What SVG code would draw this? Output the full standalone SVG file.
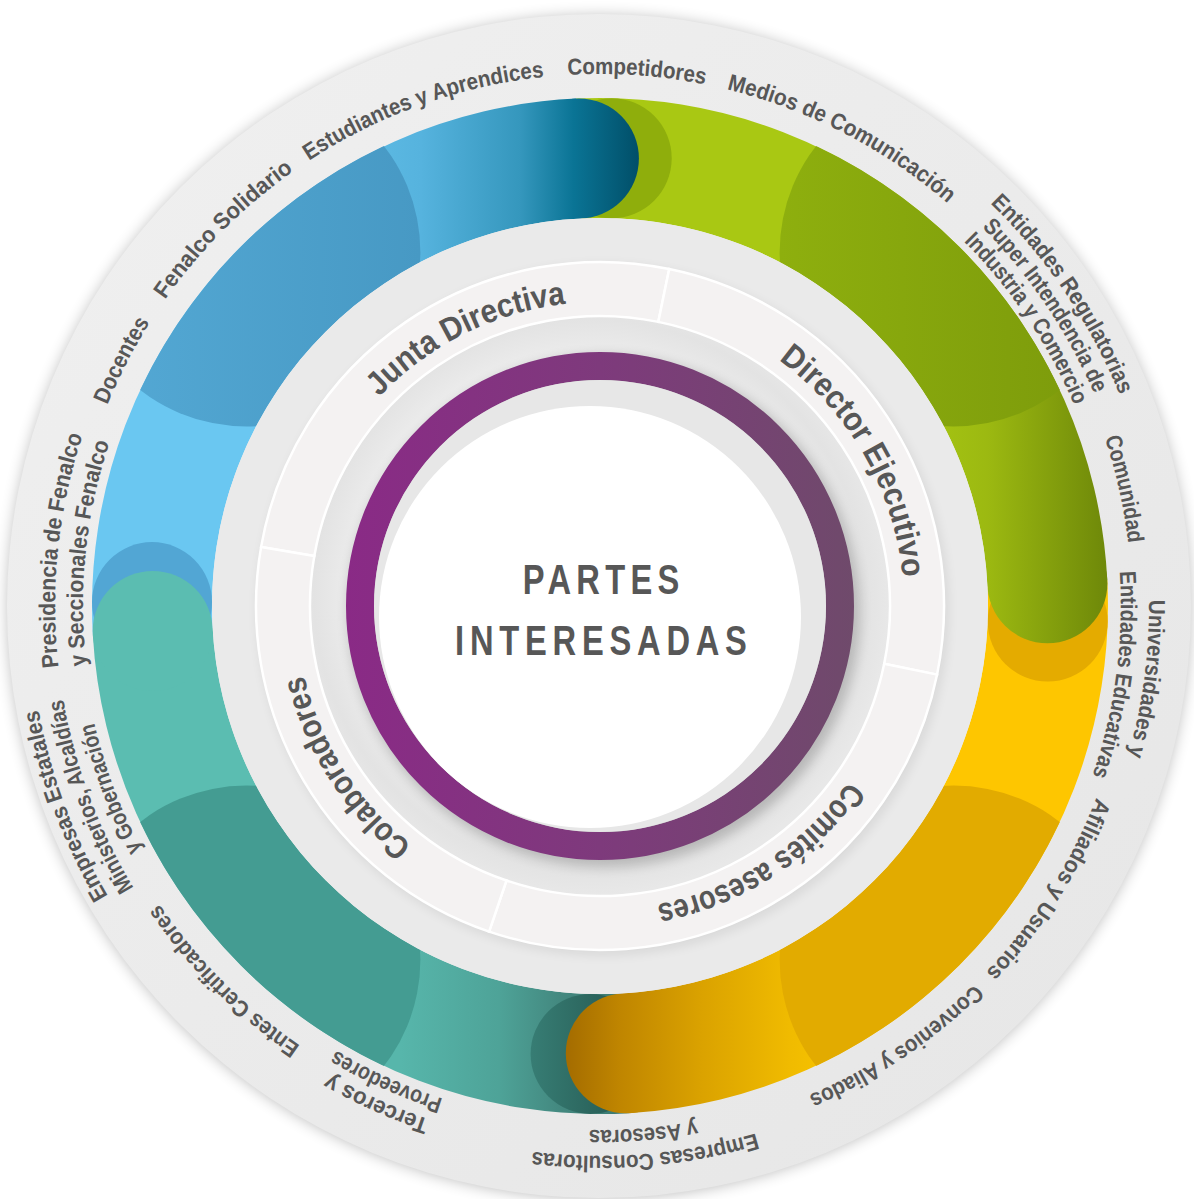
<svg xmlns="http://www.w3.org/2000/svg" width="1194" height="1199" viewBox="0 0 1194 1199">
<style>
.o{font-family:'Liberation Sans',Arial,sans-serif;font-weight:700;font-size:23px;fill:#575757;text-anchor:middle}
.i{font-family:'Liberation Sans',Arial,sans-serif;font-weight:700;font-size:33px;fill:#575757;text-anchor:middle}
.c{font-family:'Liberation Sans',Arial,sans-serif;font-weight:700;font-size:43px;fill:#575757;text-anchor:middle}
.seg{fill:#f4f2f2;stroke:#ffffff;stroke-width:2.5}
</style>
<defs>
<filter id="bl8" x="-20%" y="-20%" width="140%" height="140%"><feGaussianBlur stdDeviation="8"/></filter>
<filter id="bl6" x="-20%" y="-20%" width="140%" height="140%"><feGaussianBlur stdDeviation="6"/></filter>
<linearGradient id="gOut" x1="0" y1="0" x2="1" y2="1"><stop offset="0" stop-color="#f0f0f0"/><stop offset="1" stop-color="#e6e6e6"/></linearGradient>
<radialGradient id="gInner" gradientUnits="userSpaceOnUse" cx="590" cy="595" r="300"><stop offset="0.8" stop-color="#ececec"/><stop offset="0.92" stop-color="#e3e3e3"/><stop offset="1" stop-color="#e8e8e8"/></radialGradient>
<linearGradient id="gBlueEnd" gradientUnits="userSpaceOnUse" x1="390" y1="0" x2="645" y2="0"><stop offset="0" stop-color="#5ab7e1"/><stop offset="0.12" stop-color="#56b3de"/><stop offset="0.51" stop-color="#3597bd"/><stop offset="0.72" stop-color="#0a7495"/><stop offset="1" stop-color="#004b64"/></linearGradient>
<linearGradient id="gBlueDark" gradientUnits="userSpaceOnUse" x1="75" y1="0" x2="420" y2="0"><stop offset="0" stop-color="#55aad6"/><stop offset="1" stop-color="#4799c4"/></linearGradient>
<linearGradient id="gGreenDark" gradientUnits="userSpaceOnUse" x1="780" y1="0" x2="1130" y2="0"><stop offset="0" stop-color="#8eaf0e"/><stop offset="1" stop-color="#7a980b"/></linearGradient>
<linearGradient id="gGreenEnd" gradientUnits="userSpaceOnUse" x1="935" y1="0" x2="1110" y2="0"><stop offset="0" stop-color="#a4c312"/><stop offset="0.3" stop-color="#9cb911"/><stop offset="1" stop-color="#6d8709"/></linearGradient>
<linearGradient id="gYellowEnd" gradientUnits="userSpaceOnUse" x1="566" y1="0" x2="830" y2="0"><stop offset="0" stop-color="#a46c00"/><stop offset="0.2" stop-color="#bf8500"/><stop offset="0.51" stop-color="#daa200"/><stop offset="0.85" stop-color="#f0bb00"/><stop offset="1" stop-color="#f7c300"/></linearGradient>
<linearGradient id="gTealStart" gradientUnits="userSpaceOnUse" x1="400" y1="0" x2="630" y2="0"><stop offset="0" stop-color="#57b6ab"/><stop offset="0.43" stop-color="#4ea398"/><stop offset="0.7" stop-color="#43887f"/><stop offset="1" stop-color="#3a7870"/></linearGradient>
<linearGradient id="gTealShadow" gradientUnits="userSpaceOnUse" x1="531" y1="0" x2="640" y2="0"><stop offset="0" stop-color="#377d74"/><stop offset="1" stop-color="#23544d"/></linearGradient>
<linearGradient id="gP" gradientUnits="userSpaceOnUse" x1="346" y1="0" x2="854" y2="0"><stop offset="0" stop-color="#8a2a86"/><stop offset="0.5" stop-color="#7e3a7c"/><stop offset="1" stop-color="#6f4a6b"/></linearGradient>
<clipPath id="ann"><path clip-rule="evenodd" d="M 92,606 A 508 508 0 1 1 1108,606 A 508 508 0 1 1 92,606 Z M 212,606 A 388 388 0 1 0 988,606 A 388 388 0 1 0 212,606 Z"/></clipPath>
<path id="p532" d="M 68,606 A 532 532 0 0 1 1132,606"/>
<path id="p561" d="M 39,606 A 561 561 0 0 1 1161,606"/>
<path id="p538" d="M 62,606 A 538 538 0 0 1 1138,606"/>
<path id="p515" d="M 85,606 A 515 515 0 0 1 1115,606"/>
<path id="p549" d="M 51,606 A 549 549 0 0 1 1149,606"/>
<path id="p521" d="M 79,606 A 521 521 0 0 1 1121,606"/>
<path id="p550" d="M 50,606 A 550 550 0 0 1 1150,606"/>
<path id="p524" d="M 76,606 A 524 524 0 0 1 1124,606"/>
<path id="p541" d="M 59,606 A 541 541 0 0 1 1141,606"/>
<path id="p517" d="M 83,606 A 517 517 0 0 1 1117,606"/>
<path id="p571" d="M 29,606 A 571 571 0 0 1 1171,606"/>
<path id="p545" d="M 55,606 A 545 545 0 0 1 1145,606"/>
<path id="p519" d="M 81,606 A 519 519 0 0 1 1119,606"/>
<path id="p304" d="M 296,606 A 304 304 0 0 1 904,606"/>
</defs>

<g id="background">
<circle cx="599" cy="607" r="590" fill="#000" opacity="0.3" filter="url(#bl8)"/>
<circle cx="599" cy="606" r="592" fill="url(#gOut)"/>
</g>

<g id="colored-ring">
<path fill="#6ac7f1" d="M 92.8,634.4 A 508 508 0 0 1 240.8,246.8 L 325.6,331.6 A 388 388 0 0 0 212.6,627.7 Z"/>
<path fill="url(#gBlueEnd)" d="M 240.8,246.8 A 508 508 0 0 1 576.1,98.6 L 581.7,218.4 A 388 388 0 0 0 325.6,331.6 Z"/>
<path fill="#a9c813" d="M 576.1,98.6 A 508 508 0 0 1 959.2,246.8 L 874.4,331.6 A 388 388 0 0 0 581.7,218.4 Z"/>
<path fill="url(#gGreenEnd)" d="M 959.2,246.8 A 508 508 0 0 1 1107.3,580.3 L 987.5,586.4 A 388 388 0 0 0 874.4,331.6 Z"/>
<path fill="#fec600" d="M 1107.3,580.3 A 508 508 0 0 1 959.2,965.2 L 874.4,880.4 A 388 388 0 0 0 987.5,586.4 Z"/>
<path fill="url(#gYellowEnd)" d="M 959.2,965.2 A 508 508 0 0 1 629.2,1113.2 L 622.3,993.4 A 388 388 0 0 0 874.4,880.4 Z"/>
<path fill="url(#gTealStart)" d="M 629.2,1113.2 A 508 508 0 0 1 240.8,965.2 L 325.6,880.4 A 388 388 0 0 0 622.3,993.4 Z"/>
<path fill="#5bbdb1" d="M 240.8,965.2 A 508 508 0 0 1 92.8,634.4 L 212.6,627.7 A 388 388 0 0 0 325.6,880.4 Z"/>
<g clip-path="url(#ann)">
<circle cx="246.4" cy="252.4" r="174" fill="url(#gBlueDark)"/>
<circle cx="953.6" cy="252.4" r="174" fill="url(#gGreenDark)"/>
<circle cx="953.6" cy="959.6" r="174" fill="#e2ab00"/>
<circle cx="246.4" cy="959.6" r="174" fill="#449c92"/>
</g>
<circle cx="611.7" cy="158.2" r="60" fill="#8fae0c"/>
<circle cx="1047.7" cy="621.6" r="60" fill="#e4ab00"/>
<circle cx="590.6" cy="1053.9" r="60" fill="url(#gTealShadow)"/>
<circle cx="152" cy="602.1" r="60" fill="#52a6d4"/>
<circle cx="578.9" cy="158.5" r="60" fill="url(#gBlueEnd)"/>
<circle cx="1047.4" cy="583.3" r="60" fill="url(#gGreenEnd)"/>
<circle cx="625.8" cy="1053.3" r="60" fill="url(#gYellowEnd)"/>
<circle cx="152.7" cy="631" r="60" fill="#5bbdb1"/>
</g>

<g id="inner-base">
<circle cx="600" cy="606" r="388" fill="#eaeaea"/>
<circle cx="603" cy="610" r="345" fill="#000" opacity="0.08" filter="url(#bl6)"/>
<circle cx="600" cy="606" r="292" fill="url(#gInner)"/>
</g>

<g id="seg-junta">
<path class="seg" d="M 261.1,546.9 A 344 344 0 0 1 669.2,269.0 L 658.3,321.9 A 290 290 0 0 0 314.3,556.1 Z"/>
<g transform="rotate(-26.5 600 606)"><text class="i"><textPath href="#p304" startOffset="50%" textLength="213" lengthAdjust="spacingAndGlyphs">Junta Directiva</textPath></text></g>
</g>
<g id="seg-director">
<path class="seg" d="M 669.2,269.0 A 344 344 0 0 1 937.1,674.6 L 884.2,663.8 A 290 290 0 0 0 658.3,321.9 Z"/>
<g transform="rotate(60.3 600 606)"><text class="i"><textPath href="#p304" startOffset="50%" textLength="258" lengthAdjust="spacingAndGlyphs">Director Ejecutivo</textPath></text></g>
</g>
<g id="seg-comites">
<path class="seg" d="M 937.1,674.6 A 344 344 0 0 1 489.1,931.6 L 506.5,880.5 A 290 290 0 0 0 884.2,663.8 Z"/>
<g transform="rotate(147.2 600 606)"><text class="i"><textPath href="#p304" startOffset="50%" textLength="234" lengthAdjust="spacingAndGlyphs">Comités asesores</textPath></text></g>
</g>
<g id="seg-colaboradores">
<path class="seg" d="M 489.1,931.6 A 344 344 0 0 1 261.1,546.9 L 314.3,556.1 A 290 290 0 0 0 506.5,880.5 Z"/>
<g transform="rotate(237.5 600 606)"><text class="i"><textPath href="#p304" startOffset="50%" textLength="205" lengthAdjust="spacingAndGlyphs">Colaboradores</textPath></text></g>
</g>

<g id="center">
<circle cx="604" cy="611" r="256" fill="#000" opacity="0.2" filter="url(#bl6)"/>
<circle cx="600" cy="606" r="240" fill="none" stroke="url(#gP)" stroke-width="28"/>
<circle cx="600" cy="606" r="226" fill="#e7e7e7"/>
<circle cx="590" cy="617" r="211" fill="#ffffff"/>
<text class="c" transform="translate(601,594) scale(0.76,1)" textLength="206" lengthAdjust="spacing">PARTES</text>
<text class="c" transform="translate(601,655) scale(0.76,1)" textLength="384" lengthAdjust="spacing">INTERESADAS</text>
</g>

<g id="stakeholders">
<g id="s-competidores" transform="rotate(3.95 600 606)"><text class="o"><textPath href="#p532" startOffset="50%" textLength="138" lengthAdjust="spacingAndGlyphs">Competidores</textPath></text></g>
<g id="s-medios" transform="rotate(27.3 600 606)"><text class="o"><textPath href="#p532" startOffset="50%" textLength="251" lengthAdjust="spacingAndGlyphs">Medios de Comunicación</textPath></text></g>
<g id="s-entidades-reg" transform="rotate(56 600 606)">
<text class="o"><textPath href="#p561" startOffset="50%" textLength="233" lengthAdjust="spacingAndGlyphs">Entidades Regulatorias</textPath></text>
<text class="o"><textPath href="#p538" startOffset="50%" textLength="202" lengthAdjust="spacingAndGlyphs">Super Intendencia de</textPath></text>
<text class="o"><textPath href="#p515" startOffset="50%" textLength="199" lengthAdjust="spacingAndGlyphs">Industria y Comercio</textPath></text>
</g>
<g id="s-comunidad" transform="rotate(77.4 600 606)"><text class="o"><textPath href="#p532" startOffset="50%" textLength="108" lengthAdjust="spacingAndGlyphs">Comunidad</textPath></text></g>
<g id="s-universidades" transform="rotate(97.6 600 606)">
<text class="o"><textPath href="#p549" startOffset="50%" textLength="158" lengthAdjust="spacingAndGlyphs">Universidades y</textPath></text>
<text class="o"><textPath href="#p521" startOffset="50%" textLength="207" lengthAdjust="spacingAndGlyphs">Entidades Educativas</textPath></text>
</g>
<g id="s-afiliados" transform="rotate(122.3 600 606)"><text class="o"><textPath href="#p532" startOffset="50%" textLength="208" lengthAdjust="spacingAndGlyphs">Afiliados y Usuarios</textPath></text></g>
<g id="s-convenios" transform="rotate(146.1 600 606)"><text class="o"><textPath href="#p532" startOffset="50%" textLength="201" lengthAdjust="spacingAndGlyphs">Convenios y Aliados</textPath></text></g>
<g id="s-consultoras" transform="rotate(175.3 600 606)">
<text class="o"><textPath href="#p550" startOffset="50%" textLength="226" lengthAdjust="spacingAndGlyphs">Empresas Consultoras</textPath></text>
<text class="o"><textPath href="#p524" startOffset="50%" textLength="108" lengthAdjust="spacingAndGlyphs">y Asesoras</textPath></text>
</g>
<g id="s-terceros" transform="rotate(204.2 600 606)">
<text class="o"><textPath href="#p541" startOffset="50%" textLength="110" lengthAdjust="spacingAndGlyphs">Terceros y</textPath></text>
<text class="o"><textPath href="#p517" startOffset="50%" textLength="118" lengthAdjust="spacingAndGlyphs">Proveedores</textPath></text>
</g>
<g id="s-entes" transform="rotate(225.1 600 606)"><text class="o"><textPath href="#p532" startOffset="50%" textLength="201" lengthAdjust="spacingAndGlyphs">Entes Certificadores</textPath></text></g>
<g id="s-estatales" transform="rotate(249.5 600 606)">
<text class="o"><textPath href="#p571" startOffset="50%" textLength="200" lengthAdjust="spacingAndGlyphs">Empresas Estatales</textPath></text>
<text class="o"><textPath href="#p545" startOffset="50%" textLength="203" lengthAdjust="spacingAndGlyphs">Ministerios, Alcaldías</textPath></text>
<text class="o"><textPath href="#p519" startOffset="50%" textLength="136" lengthAdjust="spacingAndGlyphs">y Gobernación</textPath></text>
</g>
<g id="s-presidencia" transform="rotate(275.9 600 606)">
<text class="o"><textPath href="#p545" startOffset="50%" textLength="235" lengthAdjust="spacingAndGlyphs">Presidencia de Fenalco</textPath></text>
<text class="o"><textPath href="#p517" startOffset="50%" textLength="226" lengthAdjust="spacingAndGlyphs">y Seccionales Fenalco</textPath></text>
</g>
<g id="s-docentes" transform="rotate(297.2 600 606)"><text class="o"><textPath href="#p532" startOffset="50%" textLength="93" lengthAdjust="spacingAndGlyphs">Docentes</textPath></text></g>
<g id="s-fenalco-solidario" transform="rotate(315 600 606)"><text class="o"><textPath href="#p532" startOffset="50%" textLength="183" lengthAdjust="spacingAndGlyphs">Fenalco Solidario</textPath></text></g>
<g id="s-estudiantes" transform="rotate(340.4 600 606)"><text class="o"><textPath href="#p532" startOffset="50%" textLength="252" lengthAdjust="spacingAndGlyphs">Estudiantes y Aprendices</textPath></text></g>
</g>
<g id="connectors"/>
</svg>
